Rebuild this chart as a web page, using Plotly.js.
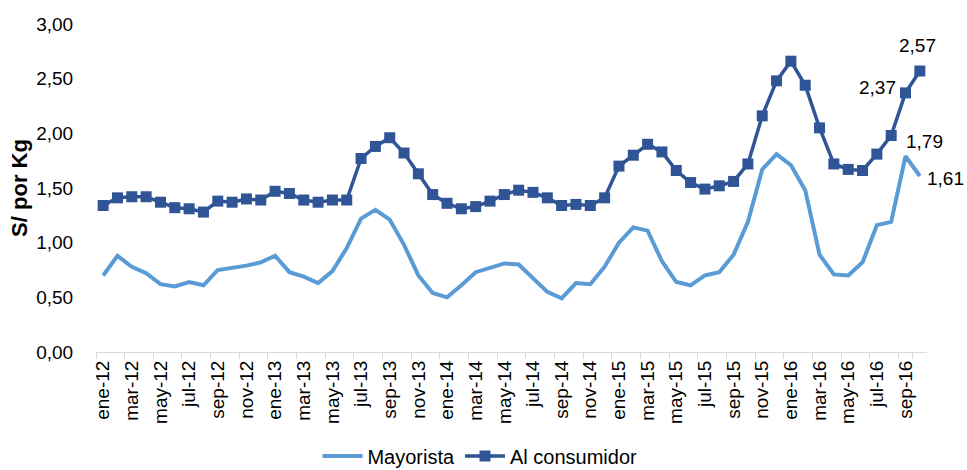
<!DOCTYPE html>
<html>
<head>
<meta charset="utf-8">
<script src="https://cdn.plot.ly/plotly-3.0.1.min.js"></script>
<style>
html,body{margin:0;padding:0;background:#fff;}
#chart{width:967px;height:470px;}
</style>
</head>
<body>
<div id="chart"></div>
<script>
const months = ["ene","feb","mar","abr","may","jun","jul","ago","sep","oct","nov","dic"];
const years = ["12","13","14","15","16"];
const categories = [];
for (const y of years) for (const m of months) categories.push(m + "-" + y);
categories.length = 58; // ene-12 .. oct-16

const mayorista = [
  0.70,0.88,0.78,0.72,0.62,0.60,0.64,0.61,0.75,0.77,0.79,0.82,
  0.88,0.73,0.69,0.63,0.74,0.95,1.22,1.30,1.21,0.98,0.70,0.54,
  0.50,0.61,0.73,0.77,0.81,0.80,0.67,0.55,0.49,0.63,0.62,0.78,
  1.00,1.14,1.11,0.83,0.64,0.61,0.70,0.73,0.89,1.19,1.67,1.81,
  1.71,1.48,0.89,0.71,0.70,0.82,1.16,1.19,1.79,1.61
];
const consumidor = [
  1.34,1.41,1.42,1.42,1.37,1.32,1.31,1.28,1.38,1.37,1.40,1.39,
  1.47,1.45,1.39,1.37,1.39,1.39,1.77,1.88,1.96,1.82,1.63,1.44,
  1.36,1.31,1.33,1.38,1.44,1.48,1.46,1.41,1.34,1.35,1.34,1.41,
  1.70,1.80,1.90,1.83,1.66,1.55,1.49,1.52,1.56,1.72,2.16,2.48,
  2.66,2.44,2.05,1.72,1.67,1.66,1.81,1.98,2.37,2.57
];
const tickLabels = categories.filter((c, i) => i % 2 === 0);

const FONT = "Liberation Sans, Arial, sans-serif";
const fmt = v => v.toFixed(2).replace(".", ",");

const traces = [
  {
    x: categories, y: mayorista, name: "Mayorista", type: "scatter", mode: "lines",
    line: {color: "#5B9BD5", width: 4}
  },
  {
    x: categories, y: consumidor, name: "Al consumidor", type: "scatter", mode: "lines+markers",
    line: {color: "#2F5597", width: 3.5},
    marker: {symbol: "square", size: 11, color: "#2F5597"}
  }
];

const n = categories.length;
const annotations = [
  {x: categories[n-1], y: consumidor[n-1], text: fmt(consumidor[n-1]), xshift: -2, yshift: 26},
  {x: categories[n-2], y: consumidor[n-2], text: fmt(consumidor[n-2]), xshift: -28, yshift: 5},
  {x: categories[n-2], y: mayorista[n-2], text: fmt(mayorista[n-2]), xshift: 19, yshift: 15},
  {x: categories[n-1], y: mayorista[n-1], text: fmt(mayorista[n-1]), xshift: 26, yshift: -3}
].map(a => Object.assign(a, {
  xref: "x", yref: "y", showarrow: false,
  font: {family: FONT, size: 19, color: "#000"}
}));

const layout = {
  width: 967, height: 470,
  margin: {l: 96, r: 40, t: 24, b: 118},
  paper_bgcolor: "#fff", plot_bgcolor: "#fff",
  separators: ",.",
  font: {family: FONT, size: 18, color: "#000"},
  showlegend: true,
  legend: {
    orientation: "h", x: 0.462, xanchor: "center",
    yref: "container", y: 0.03, yanchor: "middle",
    font: {family: FONT, size: 20, color: "#000"},
    itemwidth: 40, tracegroupgap: 0
  },
  xaxis: {
    type: "category", range: [-0.5, n - 0.5], automargin: false,
    tickmode: "array", tickvals: tickLabels, ticktext: tickLabels,
    tickson: "boundaries", ticks: "outside", ticklen: 6, tickcolor: "#D9D9D9", tickwidth: 1,
    tickangle: -90, tickfont: {family: FONT, size: 19, color: "#000"},
    showline: true, linecolor: "#D9D9D9", linewidth: 1,
    showgrid: false, zeroline: false, fixedrange: true
  },
  yaxis: {
    range: [0, 3], dtick: 0.5, tick0: 0, tickformat: ".2f", automargin: false,
    ticks: "outside", ticklen: 18, tickcolor: "rgba(0,0,0,0)",
    tickfont: {family: FONT, size: 19, color: "#000"},
    showline: false, showgrid: false, zeroline: false,
    title: {text: "<b>S/ por Kg</b>", font: {family: FONT, size: 22, color: "#000"}, standoff: 2},
    fixedrange: true
  },
  annotations: annotations
};

Plotly.newPlot("chart", traces, layout, {displayModeBar: false, staticPlot: true});
</script>
</body>
</html>
